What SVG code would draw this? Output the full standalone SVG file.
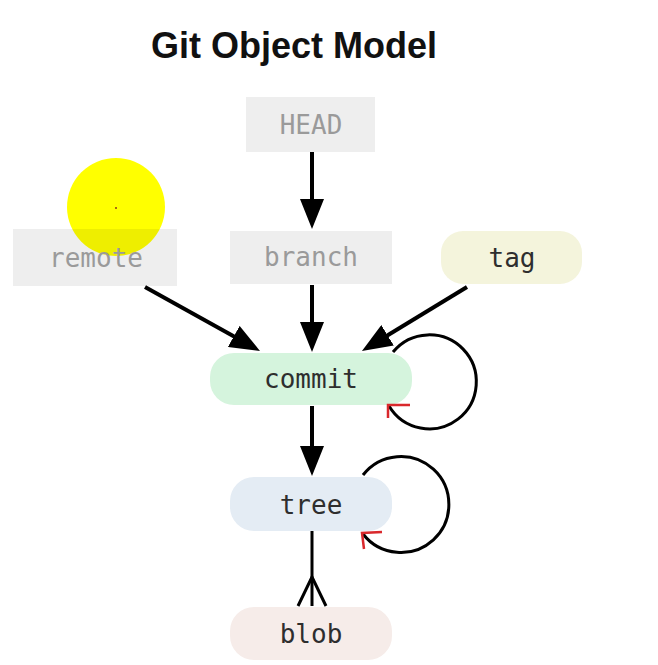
<svg xmlns="http://www.w3.org/2000/svg" width="658" height="665" viewBox="0 0 658 665">
<defs>
<style>
.title{font-family:"Liberation Sans",Arial,sans-serif;font-weight:bold;font-size:36px;fill:#111}
.lbl{font-family:"DejaVu Sans Mono","Liberation Mono",monospace;font-size:26px;text-anchor:middle}
.ref rect{fill:#000;fill-opacity:0.065}
.ref text{fill:#9a9a9a}
.obj text{fill:#2e2e2e}
.edge{stroke:#000;stroke-width:4;fill:none}
.loop{stroke:#000;stroke-width:3;fill:none}
.redhead{stroke:#d9282c;stroke-width:2.5;fill:none}
</style>
<marker id="arr" markerUnits="userSpaceOnUse" markerWidth="30" markerHeight="24" refX="22" refY="12" orient="auto">
<path d="M0,0 L30,12 L0,24 z" fill="#000"/>
</marker>
</defs>
<rect width="658" height="665" fill="#fff"/>
<text class="title" x="294" y="58" text-anchor="middle">Git Object Model</text>

<circle cx="116" cy="207" r="49" fill="#ffff00"/>
<circle cx="116" cy="208" r="1" fill="#8a3a1a"/>

<g id="HEAD" class="ref"><rect x="246" y="97" width="129" height="55"/><text class="lbl" x="311" y="134">HEAD</text></g>
<g id="remote" class="ref"><rect x="13" y="229" width="164" height="57"/><text class="lbl" x="96" y="267">remote</text></g>
<g id="branch" class="ref"><rect x="230" y="231" width="162" height="53"/><text class="lbl" x="311" y="266">branch</text></g>
<g id="tag" class="obj"><rect x="441" y="231" width="141" height="53" rx="22" fill="#f4f4dc"/><text class="lbl" x="512" y="267">tag</text></g>
<g id="commit" class="obj"><rect x="210" y="353" width="202" height="52" rx="24" fill="#d5f4dd"/><text class="lbl" x="311" y="388">commit</text></g>
<g id="tree" class="obj"><rect x="230" y="477" width="162" height="54" rx="24" fill="#e4ecf4"/><text class="lbl" x="311" y="514">tree</text></g>
<g id="blob" class="obj"><rect x="230" y="607" width="162" height="53" rx="24" fill="#f6ece9"/><text class="lbl" x="311" y="643">blob</text></g>

<g id="connectors">
<line class="edge" x1="312" y1="152" x2="312" y2="221" marker-end="url(#arr)"/>
<line class="edge" x1="312" y1="285" x2="312" y2="344" marker-end="url(#arr)"/>
<line class="edge" x1="312" y1="406" x2="312" y2="468" marker-end="url(#arr)"/>
<line class="edge" x1="145" y1="287" x2="253" y2="347.1" marker-end="url(#arr)"/>
<line class="edge" x1="467" y1="287" x2="368.8" y2="346.8" marker-end="url(#arr)"/>
<path class="loop" d="M393 352 A47 47 0 1 1 389 406"/>
<path class="redhead" d="M410 405 L388 405 L388 418"/>
<path class="loop" d="M363 475 A48 48 0 1 1 363 534"/>
<path class="redhead" d="M382 532 L362 533 L364 549"/>
<line x1="312" y1="531" x2="312" y2="606" stroke="#000" stroke-width="3"/>
<path d="M298 606 L312 577 L326 606" stroke="#000" stroke-width="3" fill="none"/>
</g>
</svg>
